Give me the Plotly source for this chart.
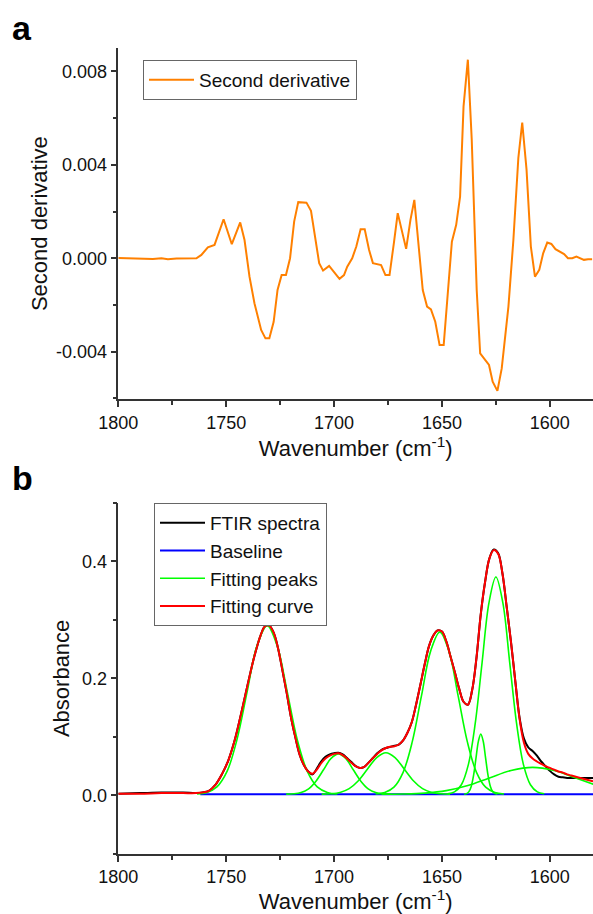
import plotly.graph_objects as go

# ---- panel a: second derivative spectrum ----
deriv_wn = [1800, 1796, 1792, 1788, 1784, 1780, 1777, 1773, 1769, 1765, 1763.8, 1761.5,
            1758.5, 1755.4, 1751.2, 1747.4, 1743.5, 1741.5, 1739.2, 1736.9, 1733.8, 1731.8,
            1730, 1728, 1726.2, 1724.3, 1722.3, 1720.4, 1718.5, 1716.6, 1712.8, 1710.7,
            1709.2, 1706.9, 1705.1, 1702.3, 1697.5, 1695.4, 1693.9, 1691.6, 1689.7, 1687.7,
            1685.8, 1683.8, 1682, 1678.2, 1676.2, 1674.3, 1672.3, 1670.5, 1666.6, 1664.6,
            1662.8, 1660.8, 1658.9, 1656.9, 1655.1, 1653.1, 1651.1, 1649.2, 1647.4, 1645.4,
            1643.4, 1641.6, 1640, 1638, 1636.2, 1633.9, 1632.3, 1630.3, 1628.2, 1626.5,
            1624.3, 1622.3, 1619.2, 1616.9, 1614.6, 1612.8, 1610.8, 1608.8, 1606.9, 1604.9,
            1603.1, 1601.2, 1599.3, 1597.4, 1595.5, 1593.4, 1591.6, 1589.6, 1587.7, 1585.9,
            1584.2, 1582.3, 1580.4]
deriv_val = [0.00001, 0.0, 0.00002, 0.00001, -0.00003, 0.0, -0.00004, -0.00001, -0.00001,
             -0.00001, 0.0, 0.00014, 0.00047, 0.00057, 0.00167, 0.0006, 0.00153, 0.00078,
             -0.00079, -0.00193, -0.00307, -0.00343, -0.00343, -0.00272, -0.00136, -0.00072,
             -0.00072, 0.0, 0.00157, 0.0024, 0.00238, 0.00203, 0.00121, -0.00021, -0.00053,
             -0.00033, -0.00088, -0.00072, -0.00036, 0.0, 0.0005, 0.00124, 0.00124, 0.00036,
             -0.00021, -0.00029, -0.00072, -0.00072, 0.00064, 0.00193, 0.0004, 0.00164,
             0.0025, 0.00064, -0.00136, -0.00207, -0.00219, -0.00272, -0.00372, -0.00372,
             -0.0015, 0.00071, 0.00143, 0.00264, 0.0065, 0.0085, 0.00507, -0.00136, -0.00407,
             -0.00433, -0.00457, -0.00529, -0.00568, -0.00472, -0.00207, 0.00078, 0.00429,
             0.00581, 0.00379, 0.0005, -0.00079, -0.0005, 0.00021, 0.00067, 0.00061, 0.00039,
             0.00028, 0.00018, 0.0, 0.0, 0.00007, 0.0, -0.00007, -0.00004, -0.00004]

# ---- panel b: FTIR spectrum and its peak fit ----
fit_wn = [1800, 1790, 1780, 1770, 1764, 1761, 1758, 1755, 1752, 1749, 1746, 1743, 1740,
          1737, 1734, 1732, 1730, 1728, 1726, 1724, 1722, 1720, 1718, 1716, 1714, 1712,
          1710, 1708, 1706, 1704, 1702, 1700, 1698, 1696, 1694, 1692, 1690, 1688, 1686,
          1684, 1682, 1680, 1678, 1676, 1674, 1672, 1670, 1668, 1666, 1664, 1662, 1660,
          1658, 1656, 1654, 1652, 1650, 1648, 1646, 1644, 1642, 1640, 1638, 1636, 1634,
          1632, 1630, 1628, 1626, 1624, 1622, 1620, 1618, 1616, 1614, 1612, 1610, 1608,
          1606, 1604, 1602, 1600, 1598, 1596, 1594, 1592, 1590, 1585, 1580]
ftir_abs = [0.003, 0.004, 0.005, 0.005, 0.004, 0.005, 0.008, 0.018, 0.036, 0.06, 0.095,
            0.141, 0.19, 0.237, 0.274, 0.289, 0.29, 0.278, 0.252, 0.215, 0.176, 0.134, 0.1,
            0.07, 0.052, 0.041, 0.036, 0.046, 0.058, 0.066, 0.07, 0.072, 0.073, 0.07, 0.064,
            0.057, 0.05, 0.047, 0.049, 0.056, 0.064, 0.072, 0.078, 0.081, 0.083, 0.085,
            0.087, 0.094, 0.107, 0.125, 0.155, 0.189, 0.224, 0.255, 0.273, 0.282, 0.28,
            0.263, 0.237, 0.21, 0.182, 0.16, 0.155, 0.18, 0.235, 0.31, 0.365, 0.405, 0.42,
            0.414, 0.38, 0.322, 0.262, 0.195, 0.132, 0.097, 0.082, 0.076, 0.068, 0.058,
            0.05, 0.042, 0.036, 0.032, 0.031, 0.03, 0.03, 0.03, 0.03]
fit_abs = [0.003, 0.003, 0.004, 0.004, 0.004, 0.005, 0.008, 0.018, 0.036, 0.06, 0.095,
           0.141, 0.19, 0.237, 0.274, 0.289, 0.29, 0.278, 0.252, 0.215, 0.176, 0.134, 0.1,
           0.07, 0.052, 0.041, 0.037, 0.044, 0.055, 0.063, 0.068, 0.071, 0.072, 0.069,
           0.063, 0.056, 0.05, 0.047, 0.049, 0.056, 0.064, 0.071, 0.077, 0.081, 0.083,
           0.084, 0.087, 0.094, 0.107, 0.125, 0.155, 0.189, 0.224, 0.255, 0.273, 0.282,
           0.28, 0.263, 0.237, 0.21, 0.182, 0.16, 0.155, 0.18, 0.235, 0.31, 0.365, 0.405,
           0.419, 0.413, 0.38, 0.322, 0.262, 0.195, 0.13, 0.09, 0.071, 0.063, 0.058, 0.054,
           0.05, 0.047, 0.044, 0.041, 0.039, 0.036, 0.034, 0.029, 0.024]

base_wn = [1762, 1580]
base_abs = [0.002, 0.002]

peak1_wn = [1763.5, 1758.9, 1754.3, 1749.6, 1745.0, 1740.3, 1735.7, 1731, 1726.4, 1721.7,
            1717.1, 1712.4, 1707.8, 1703.1, 1698.5]
peak1_abs = [0.0026, 0.0052, 0.0146, 0.041, 0.0955, 0.177, 0.256, 0.29, 0.256, 0.177,
             0.0955, 0.041, 0.0146, 0.0052, 0.0026]
peak2_wn = [1722.2, 1718.7, 1715.3, 1711.8, 1708.4, 1704.9, 1701.5, 1698, 1694.5, 1691.1,
            1687.6, 1684.2, 1680.7, 1677.3, 1673.8]
peak2_abs = [0.0022, 0.0028, 0.005, 0.0113, 0.0244, 0.0438, 0.0629, 0.071, 0.0629, 0.0438,
             0.0244, 0.0113, 0.005, 0.0028, 0.0022]
peak3_wn = [1705.75, 1701.5, 1697.25, 1693, 1688.75, 1684.5, 1680.25, 1676, 1671.75, 1667.5,
            1663.25, 1659, 1654.75, 1650.5, 1646.25]
peak3_abs = [0.0022, 0.0028, 0.0051, 0.0116, 0.0251, 0.0451, 0.0647, 0.073, 0.0647, 0.0451,
             0.0251, 0.0116, 0.0051, 0.0028, 0.0022]
peak4_wn = [1680.75, 1676.5, 1672.25, 1668, 1663.75, 1659.5, 1655.25, 1651, 1646.75, 1642.5,
            1638.25, 1634, 1629.75, 1625.5, 1621.25]
peak4_abs = [0.0026, 0.0051, 0.0142, 0.0395, 0.0919, 0.17, 0.2465, 0.279, 0.2465, 0.17,
             0.0919, 0.0395, 0.0142, 0.0051, 0.0026]
peak5_wn = [1639.7, 1638.6, 1637.5, 1636.4, 1635.3, 1634.2, 1633.1, 1632, 1630.9, 1629.8,
            1628.7, 1627.6, 1626.5, 1625.4, 1624.3]
peak5_abs = [0.0022, 0.0031, 0.0065, 0.0159, 0.0354, 0.0645, 0.0929, 0.105, 0.0929, 0.0645,
             0.0354, 0.0159, 0.0065, 0.0031, 0.0022]
peak6_wn = [1647.4, 1644.2, 1641, 1637.8, 1634.6, 1631.4, 1628.2, 1625, 1621.8, 1618.6,
            1615.4, 1612.2, 1609, 1605.8, 1602.6]
peak6_abs = [0.0028, 0.0061, 0.0183, 0.0522, 0.1225, 0.227, 0.3294, 0.373, 0.3294, 0.227,
             0.1225, 0.0522, 0.0183, 0.0061, 0.0028]
peak7_wn = [1678, 1668, 1658, 1648, 1638, 1628, 1618, 1608, 1598, 1588, 1578]
peak7_abs = [0.0021, 0.0025, 0.004, 0.0082, 0.0169, 0.0299, 0.0426, 0.048, 0.0426, 0.0299,
             0.0169]

peaks = [(peak1_wn, peak1_abs), (peak2_wn, peak2_abs), (peak3_wn, peak3_abs),
         (peak4_wn, peak4_abs), (peak5_wn, peak5_abs), (peak6_wn, peak6_abs),
         (peak7_wn, peak7_abs)]

deriv_ticks = [-0.004, 0.0, 0.004, 0.008]
deriv_ticktext = ["-0.004", "0.000", "0.004", "0.008"]
abs_ticks = [0.0, 0.2, 0.4]
abs_ticktext = ["0.0", "0.2", "0.4"]

W, H = 593, 914
FONT = "Liberation Sans, Arial, sans-serif"
AXIS_COLOR = "#333333"

fig = go.Figure()

fig.add_trace(go.Scatter(x=deriv_wn, y=deriv_val, mode="lines", name="Second derivative",
                         line=dict(color="#FF8000", width=2), xaxis="x", yaxis="y",
                         legend="legend"))

fig.add_trace(go.Scatter(x=fit_wn, y=ftir_abs, mode="lines", name="FTIR spectra",
                         line=dict(color="#000000", width=2, shape="spline"),
                         xaxis="x2", yaxis="y2", legend="legend2"))
fig.add_trace(go.Scatter(x=base_wn, y=base_abs, mode="lines", name="Baseline",
                         line=dict(color="#0000FF", width=2), xaxis="x2", yaxis="y2",
                         legend="legend2"))
for i, (wn, ab) in enumerate(peaks):
    fig.add_trace(go.Scatter(x=wn, y=ab, mode="lines", name="Fitting peaks",
                             line=dict(color="#00FF00", width=1.6, shape="spline"),
                             xaxis="x2", yaxis="y2", legend="legend2",
                             legendgroup="peaks", showlegend=(i == 0)))
fig.add_trace(go.Scatter(x=fit_wn, y=fit_abs, mode="lines", name="Fitting curve",
                         line=dict(color="#FF0000", width=2, shape="spline"),
                         xaxis="x2", yaxis="y2", legend="legend2"))


def px_x(p):
    return p / W


def px_y(p):
    return 1 - p / H


xdom = [px_x(118.3), 1.0]
common_x = dict(
    range=[1800, 1580], dtick=50, showline=True, linecolor=AXIS_COLOR, linewidth=1.5,
    ticks="outside", ticklen=6, tickwidth=1.5, tickcolor=AXIS_COLOR, showgrid=False,
    zeroline=False, tickfont=dict(size=18, color="#111"), automargin=False,
    minor=dict(dtick=25, ticks="outside", ticklen=4, tickwidth=1.5, tickcolor=AXIS_COLOR),
    title=dict(text="Wavenumber (cm<sup>-1</sup>)", font=dict(size=22, color="#111"),
               standoff=0),
)
common_y = dict(
    showline=True, linecolor=AXIS_COLOR, linewidth=1.5, ticks="outside", ticklen=6,
    tickwidth=1.5, tickcolor=AXIS_COLOR, showgrid=False, zeroline=False,
    tickfont=dict(size=18, color="#111"), automargin=False,
)

fig.update_layout(
    width=W, height=H,
    margin=dict(l=0, r=0, t=0, b=0, autoexpand=False),
    paper_bgcolor="white", plot_bgcolor="white",
    font=dict(family=FONT, color="#111"),
    xaxis=dict(domain=xdom, anchor="y", **common_x),
    yaxis=dict(domain=[px_y(399.3), px_y(48)], anchor="x", range=[-0.00604, 0.009],
               tickmode="array", tickvals=deriv_ticks, ticktext=deriv_ticktext,
               minor=dict(tickmode="linear", tick0=0, dtick=0.002, ticks="outside",
                          ticklen=4, tickwidth=1.5, tickcolor=AXIS_COLOR),
               title=dict(text="Second derivative", font=dict(size=22, color="#111"),
                          standoff=2),
               **common_y),
    xaxis2=dict(domain=xdom, anchor="y2", **common_x),
    yaxis2=dict(domain=[px_y(854), px_y(502.7)], anchor="x2", range=[-0.1, 0.5],
                tickmode="array", tickvals=abs_ticks, ticktext=abs_ticktext,
                minor=dict(tickmode="linear", tick0=0, dtick=0.1, ticks="outside",
                           ticklen=4, tickwidth=1.5, tickcolor=AXIS_COLOR),
                title=dict(text="Absorbance", font=dict(size=22, color="#111"), standoff=6),
                **common_y),
    legend=dict(x=px_x(143), y=px_y(60), xanchor="left", yanchor="top",
                bgcolor="white", bordercolor="#666", borderwidth=1, itemwidth=45,
                font=dict(size=19, color="#111"), tracegroupgap=0),
    legend2=dict(x=px_x(154), y=px_y(503), xanchor="left", yanchor="top",
                 bgcolor="white", bordercolor="#666", borderwidth=1, itemwidth=45,
                 font=dict(size=19, color="#111"), tracegroupgap=0),
    showlegend=True,
)

fig.add_annotation(text="<b>a</b>", x=px_x(10), y=px_y(28), xref="paper", yref="paper",
                   xanchor="left", yanchor="middle", showarrow=False,
                   font=dict(size=34, color="#000", family=FONT))
fig.add_annotation(text="<b>b</b>", x=px_x(10), y=px_y(478), xref="paper", yref="paper",
                   xanchor="left", yanchor="middle", showarrow=False,
                   font=dict(size=34, color="#000", family=FONT))

# the page body has a default 8px margin; drop it so the figure fills the window
fig.write_html("out.html", config={"displayModeBar": False},
               post_script="document.body.style.margin='0';")
